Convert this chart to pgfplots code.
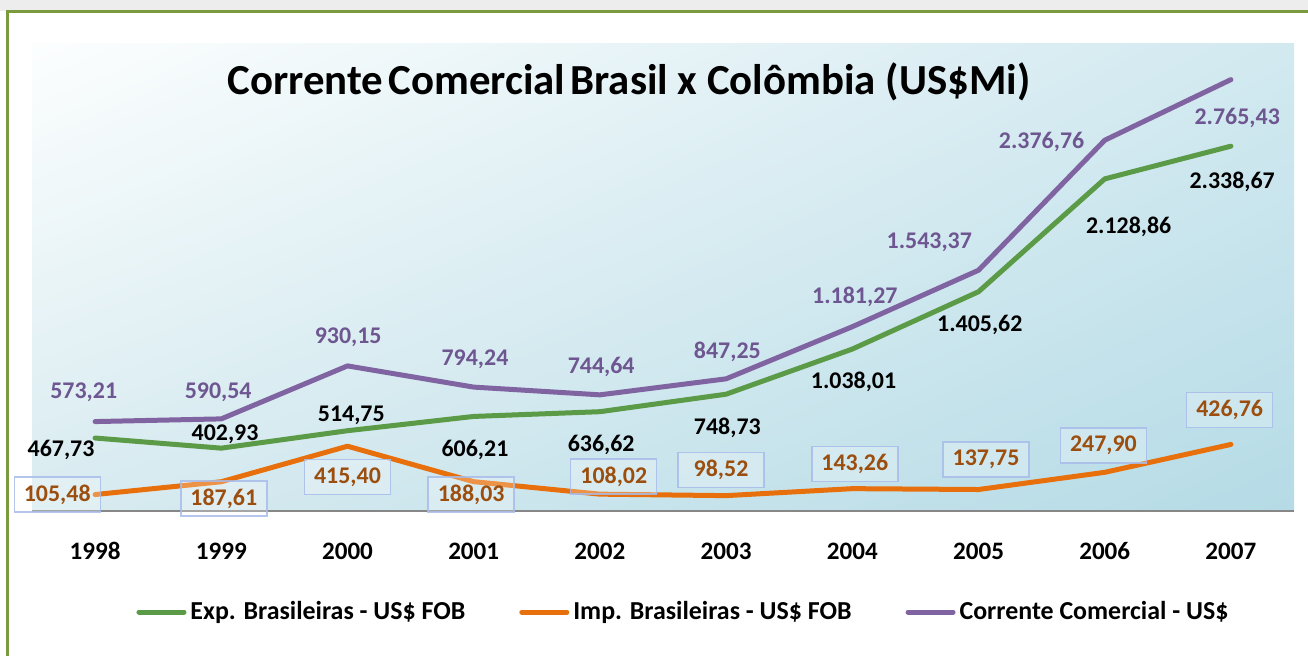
\documentclass[border=0pt]{standalone}
\usepackage{fontspec}
\setmainfont{Carlito}
\usepackage{pgfplots}
\pgfplotsset{compat=1.18}
\usetikzlibrary{shadings}

\definecolor{expgreen}{HTML}{5B9A46}
\definecolor{impor}{HTML}{E8700C}
\definecolor{corpurple}{HTML}{8064A2}
\definecolor{purpletxt}{HTML}{6E5690}
\definecolor{ortxt}{HTML}{9C4E0E}
\definecolor{boxblue}{HTML}{A8BCEA}
\definecolor{framegreen}{HTML}{7A9A3E}
\definecolor{bgul}{HTML}{FCFEFE}
\definecolor{bgur}{HTML}{D2E9F0}
\definecolor{bgll}{HTML}{D8EBF0}
\definecolor{bglr}{HTML}{B5DBE6}

\newcommand{\lbl}{\bfseries\fontsize{12}{14}\selectfont}

\begin{document}
\begin{tikzpicture}[x=1bp,y=1bp]
\useasboundingbox (0,0) rectangle (654,327.5);
\fill[black!7] (0,322) rectangle (654,327.5);
\draw[framegreen, line width=1.3bp] (3.6,-5) -- (3.6,321.6) -- (660,321.6);

\begin{axis}[
  at={(16bp,72bp)}, anchor=south west,
  width=631bp, height=234bp, scale only axis,
  xmin=-0.5, xmax=9.5, ymin=0, ymax=3000,
  axis y line=none, axis x line*=bottom,
  x axis line style={draw=black!47, line width=0.8bp, -},
  xtick={0,...,9},
  xticklabels={1998,1999,2000,2001,2002,2003,2004,2005,2006,2007},
  major tick length=0pt,
  xticklabel style={font=\bfseries\fontsize{12.6}{14}\selectfont, anchor=base, yshift=-24bp},
  clip=false,
  axis background/.style={upper left=bgul, upper right=bgur, lower left=bgll, lower right=bglr},
  legend columns=3,
  legend style={at={(0.517,-0.216)}, anchor=center, draw=none, fill=none,
    font=\bfseries\fontsize{13}{15}\selectfont,
    /tikz/every even column/.append style={column sep=25bp}},
  legend image code/.code={\draw[#1, line width=2.5bp] (0bp,0bp) -- (22.5bp,0bp);},
]
\addplot[expgreen, line width=2.5bp, line join=round, line cap=round] coordinates {
  (0,467.73) (1,402.93) (2,514.75) (3,606.21) (4,636.62)
  (5,748.73) (6,1038.01) (7,1405.62) (8,2128.86) (9,2338.67)};
\addlegendentry{Exp. Brasileiras - US\$ FOB}
\addplot[impor, line width=2.5bp, line join=round, line cap=round] coordinates {
  (0,105.48) (1,187.61) (2,415.40) (3,188.03) (4,108.02)
  (5,98.52) (6,143.26) (7,137.75) (8,247.90) (9,426.76)};
\addlegendentry{Imp. Brasileiras - US\$ FOB}
\addplot[corpurple, line width=2.5bp, line join=round, line cap=round] coordinates {
  (0,573.21) (1,590.54) (2,930.15) (3,794.24) (4,744.64)
  (5,847.25) (6,1181.27) (7,1543.37) (8,2376.76) (9,2765.43)};
\addlegendentry{Corrente Comercial - US\$}

% data labels: Corrente Comercial
\begin{scope}[every node/.style={font=\lbl, text=purpletxt}]
\node at (axis cs:-0.09,763) {573,21};
\node at (axis cs:0.975,763) {590,54};
\node at (axis cs:2.005,1115) {930,15};
\node at (axis cs:3.01,974) {794,24};
\node at (axis cs:4.01,923) {744,64};
\node at (axis cs:5.01,1019) {847,25};
\node at (axis cs:6.02,1372) {1.181,27};
\node at (axis cs:6.61,1724) {1.543,37};
\node at (axis cs:7.50,2365) {2.376,76};
\node at (axis cs:9.05,2519) {2.765,43};
\end{scope}
% data labels: Exportacoes
\begin{scope}[every node/.style={font=\lbl, text=black}]
\node at (axis cs:-0.27,391) {467,73};
\node at (axis cs:1.03,494) {402,93};
\node at (axis cs:2.03,615) {514,75};
\node at (axis cs:3.01,391) {606,21};
\node at (axis cs:4.01,423) {636,62};
\node at (axis cs:5.01,532) {748,73};
\node at (axis cs:6.01,827) {1.038,01};
\node at (axis cs:7.01,1192) {1.405,62};
\node at (axis cs:8.19,1821) {2.128,86};
\node at (axis cs:9.01,2109) {2.338,67};
\end{scope}
% data labels: Importacoes (boxed)
\begin{scope}[every node/.style={font=\lbl, text=ortxt, draw=boxblue, line width=0.7bp,
    fill=white, fill opacity=0.25, text opacity=1, draw opacity=0.85,
    minimum width=43bp, minimum height=17.5bp, inner sep=0pt}]
\node at (axis cs:-0.30,106) {105,48};
\node at (axis cs:1.02,80) {187,61};
\node at (axis cs:2.00,218) {415,40};
\node at (axis cs:2.98,106) {188,03};
\node at (axis cs:4.11,221) {108,02};
\node at (axis cs:4.96,263) {98,52};
\node at (axis cs:6.02,301) {143,26};
\node at (axis cs:7.06,330) {137,75};
\node at (axis cs:7.99,420) {247,90};
\node at (axis cs:8.99,647) {426,76};
\end{scope}
\end{axis}

\node[font=\bfseries\fontsize{21.5}{23}\selectfont, anchor=base] at (314.5,280.5)
  {Corrente\hspace{0.12em}Comercial\hspace{0.12em}Brasil x Colômbia (US\$Mi)};
\end{tikzpicture}
\end{document}
